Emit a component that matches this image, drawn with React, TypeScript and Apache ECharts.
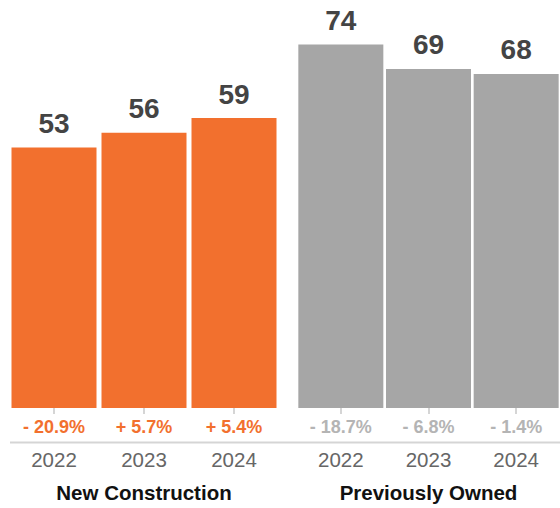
import React, { useEffect, useRef } from "react";
import * as echarts from "echarts";

const years = ["2022", "2023", "2024"];
const newConstruction = [53, 56, 59];
const previouslyOwned = [74, 69, 68];
const newChange = ["- 20.9%", "+ 5.7%", "+ 5.4%"];
const ownedChange = ["- 18.7%", "- 6.8%", "- 1.4%"];
const groups = ["New Construction", "Previously Owned"];

const ORANGE = "#F2702E";
const GRAY = "#A6A6A6";
const GRAY_TEXT = "#B4B4B4";
const FONT = "'Liberation Sans', Arial, Helvetica, sans-serif";

export default function App() {
  const ref = useRef<HTMLDivElement>(null);
  useEffect(() => {
    if (!ref.current) return;
    const chart = echarts.init(ref.current, null, { renderer: "svg" });

    const yearAxis = (gridIndex: number, name: string) => ({
      gridIndex,
      type: "category",
      data: years,
      position: "bottom",
      offset: 32,
      axisLine: { show: false },
      axisTick: { show: true, alignWithLabel: true, length: 6, lineStyle: { color: "#D5D5D5", width: 2 } },
      axisLabel: { margin: 9, fontSize: 20.5, color: "#666666", fontFamily: FONT },
      name,
      nameLocation: "middle",
      nameGap: 42,
      nameTextStyle: { fontSize: 20.5, fontWeight: "bold", color: "#111111", fontFamily: FONT },
    });
    const changeAxis = (gridIndex: number, data: string[], color: string) => ({
      gridIndex,
      type: "category",
      data,
      position: "bottom",
      axisLine: { show: false },
      axisTick: { show: false },
      axisLabel: { margin: 9.5, fontSize: 18, fontWeight: "bold", color, fontFamily: FONT },
    });
    const valAxis = (gridIndex: number) => ({
      gridIndex,
      type: "value",
      min: 0,
      max: 81,
      show: false,
      splitLine: { show: false },
    });
    const barLabel = {
      show: true,
      position: "top",
      distance: 10,
      fontSize: 28,
      fontWeight: "bold",
      color: "#444444",
      fontFamily: FONT,
    };

    chart.setOption({
      animation: false,
      grid: [
        { left: 9, width: 270, top: 10, bottom: 98 },
        { left: 297, width: 270, top: 10, bottom: 98 },
      ],
      xAxis: [
        yearAxis(0, groups[0]),
        changeAxis(0, newChange, ORANGE),
        yearAxis(1, groups[1]),
        changeAxis(1, ownedChange, GRAY_TEXT),
      ],
      yAxis: [valAxis(0), valAxis(1)],
      series: [
        {
          type: "bar",
          xAxisIndex: 0,
          yAxisIndex: 0,
          data: newConstruction,
          barWidth: 85,
          itemStyle: { color: ORANGE },
          label: barLabel,
        },
        {
          type: "bar",
          xAxisIndex: 2,
          yAxisIndex: 1,
          data: previouslyOwned,
          barWidth: 85,
          itemStyle: { color: GRAY },
          label: barLabel,
        },
      ],
      graphic: [
        {
          type: "line",
          shape: { x1: 10, y1: 442.5, x2: 560, y2: 442.5 },
          style: { stroke: "#D5D5D5", lineWidth: 2 },
        },
      ],
    });
    return () => chart.dispose();
  }, []);

  return (
    <div
      ref={ref}
      style={{ position: "fixed", left: 0, top: 0, width: 560, height: 508, background: "#fff" }}
    />
  );
}
